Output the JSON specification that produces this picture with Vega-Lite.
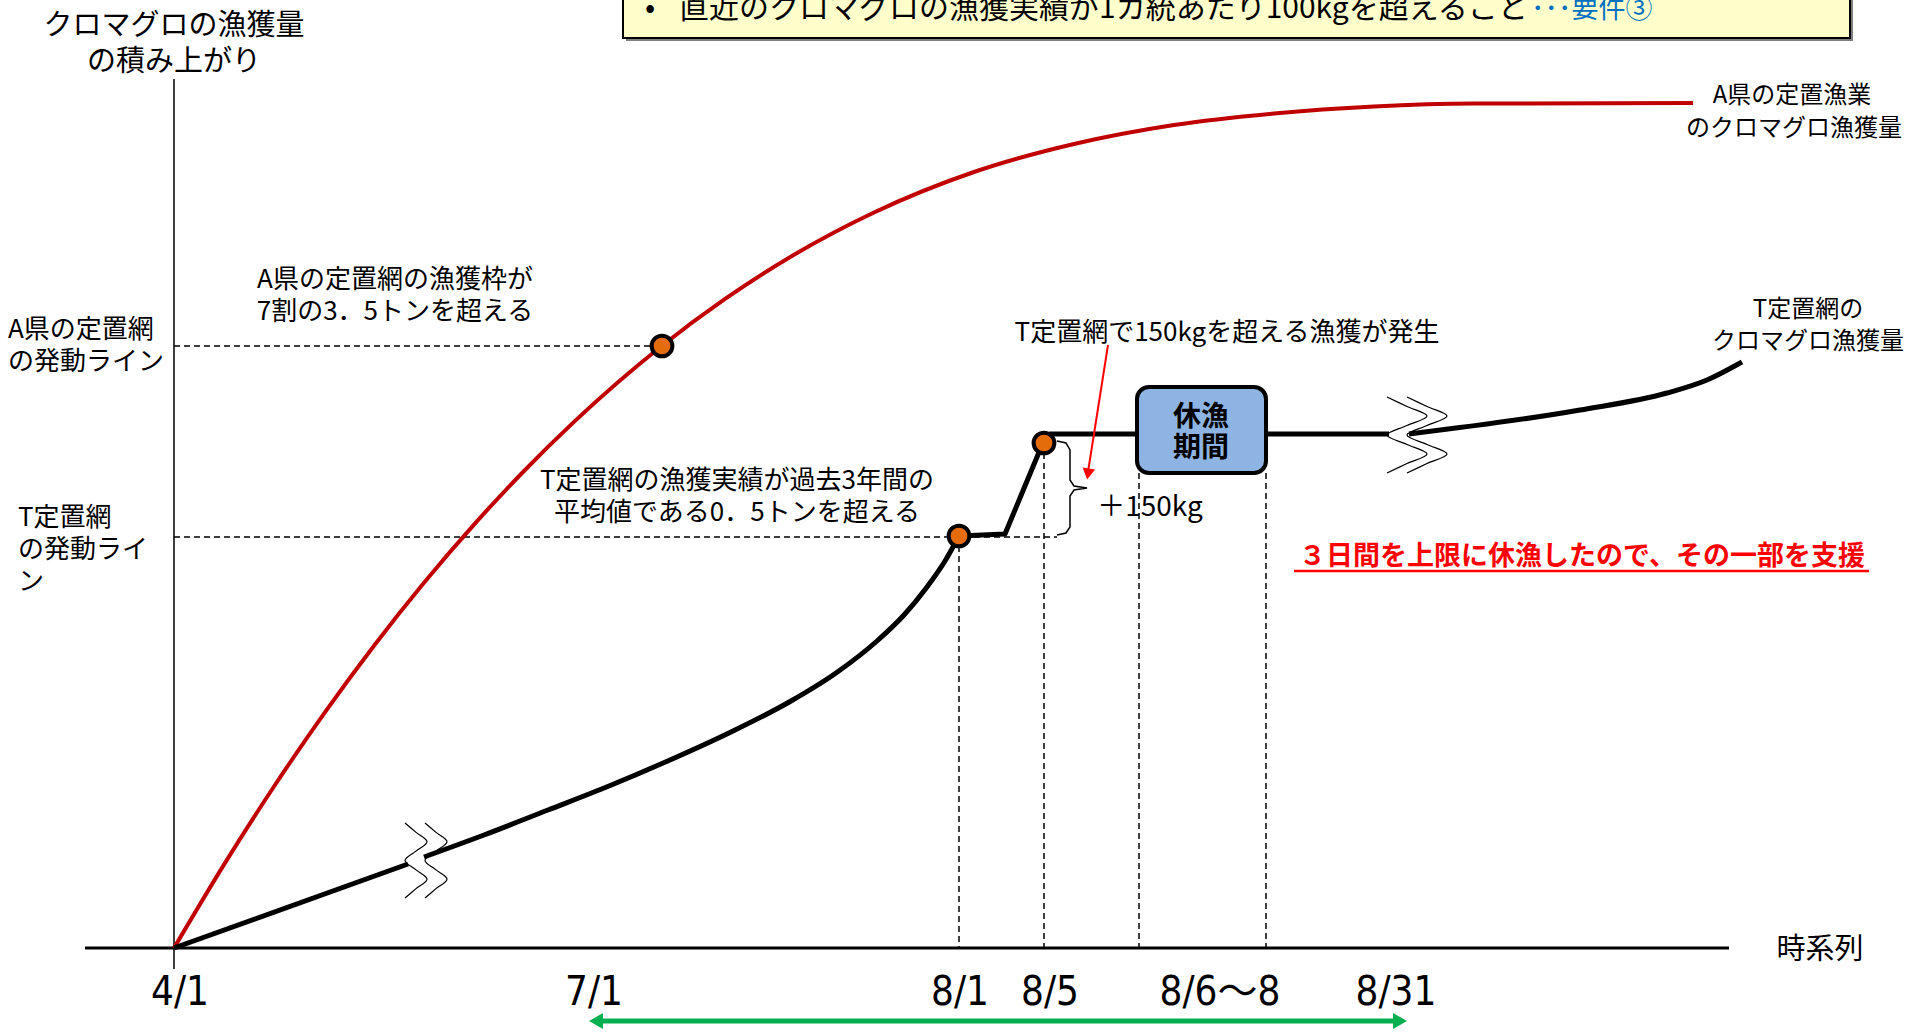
{
  "$schema": "https://vega.github.io/schema/vega-lite/v6.json",
  "width": 1909,
  "height": 1032,
  "autosize": {"type": "none"},
  "padding": 0,
  "background": "white",
  "config": {"view": {"stroke": null}, "font": "Noto Sans CJK JP"},
  "datasets": {
    "ybox": [{"x": 44.9, "y": 96.5, "x2": 167.6, "y2": 91.0}],
    "ybullet": [{"x": 47.6, "y": 93.0, "t": "•"}],
    "ytext": [{"x": 50.5, "y": 93.0, "t": "直近のクロマグロの漁獲実績が1カ統あたり100kgを超えること"}],
    "yblue": [{"x": 135.7, "y": 93.0, "t": "･･･要件③"}],
    "xaxis": [{"x": -8.9, "y": 0, "x2": 155.5, "y2": 0}],
    "yaxis": [{"x": 0, "y": -2.1, "x2": 0, "y2": 86.9}],
    "dashed": [
      {"x": 0, "y": 60.2, "x2": 48.8, "y2": 60.2},
      {"x": 0, "y": 41.1, "x2": 88.3, "y2": 41.1},
      {"x": 78.5, "y": 41.2, "x2": 78.5, "y2": 0},
      {"x": 87.0, "y": 50.5, "x2": 87.0, "y2": 0},
      {"x": 96.5, "y": 47.5, "x2": 96.5, "y2": 0},
      {"x": 109.2, "y": 47.5, "x2": 109.2, "y2": 0}
    ],
    "red": [
      {"x": 0, "y": 0}, {"x": 5, "y": 8.34}, {"x": 10, "y": 16.15}, {"x": 15, "y": 23.44}, {"x": 20, "y": 30.23},
      {"x": 25, "y": 36.52}, {"x": 30, "y": 42.34}, {"x": 35, "y": 47.7}, {"x": 40, "y": 52.61}, {"x": 48.8, "y": 60.22},
      {"x": 55, "y": 64.83}, {"x": 62, "y": 69.32}, {"x": 70, "y": 73.55}, {"x": 80, "y": 77.6}, {"x": 90, "y": 80.4},
      {"x": 100, "y": 82.3}, {"x": 110, "y": 83.45}, {"x": 120, "y": 84.15}, {"x": 130, "y": 84.45}, {"x": 151.9, "y": 84.5}
    ],
    "blackLin": [
      {"seg": "A", "x": 0, "y": 0}, {"seg": "A", "x": 23.4, "y": 8.4},
      {"seg": "C", "x": 78.5, "y": 41.2}, {"seg": "C", "x": 83.1, "y": 41.4},
      {"seg": "C", "x": 86.8, "y": 50.3}, {"seg": "C", "x": 87.6, "y": 51.4},
      {"seg": "C", "x": 121.5, "y": 51.4}
    ],
    "blackMono": [
      {"seg": "B", "x": 25.0, "y": 9.1}, {"seg": "B", "x": 31.0, "y": 11.3}, {"seg": "B", "x": 37.4, "y": 13.8},
      {"seg": "B", "x": 43.5, "y": 16.2}, {"seg": "B", "x": 49.6, "y": 18.8}, {"seg": "B", "x": 55.7, "y": 21.6},
      {"seg": "B", "x": 61.7, "y": 24.7}, {"seg": "B", "x": 66.2, "y": 27.5}, {"seg": "B", "x": 70.3, "y": 30.7},
      {"seg": "B", "x": 73.0, "y": 33.3}, {"seg": "B", "x": 75.3, "y": 36.1}, {"seg": "B", "x": 77.1, "y": 38.7},
      {"seg": "B", "x": 78.5, "y": 41.2},
      {"seg": "D", "x": 123.5, "y": 51.4}, {"seg": "D", "x": 140.6, "y": 53.8}, {"seg": "D", "x": 149.3, "y": 55.5},
      {"seg": "D", "x": 153.3, "y": 56.8}, {"seg": "D", "x": 156.8, "y": 58.6}
    ],
    "breaks": [
      {"id": "a1", "i": 0, "x": 23.1, "y": 12.5}, {"id": "a1", "i": 1, "x": 24.2, "y": 11.56}, {"id": "a1", "i": 2, "x": 25.3, "y": 10.63},
      {"id": "a1", "i": 3, "x": 24.2, "y": 9.69}, {"id": "a1", "i": 4, "x": 23.1, "y": 8.75}, {"id": "a1", "i": 5, "x": 24.2, "y": 7.81},
      {"id": "a1", "i": 6, "x": 25.3, "y": 6.88}, {"id": "a1", "i": 7, "x": 24.2, "y": 5.94}, {"id": "a1", "i": 8, "x": 23.1, "y": 5.0},
      {"id": "a2", "i": 0, "x": 25.1, "y": 12.5}, {"id": "a2", "i": 1, "x": 26.2, "y": 11.56}, {"id": "a2", "i": 2, "x": 27.3, "y": 10.63},
      {"id": "a2", "i": 3, "x": 26.2, "y": 9.69}, {"id": "a2", "i": 4, "x": 25.1, "y": 8.75}, {"id": "a2", "i": 5, "x": 26.2, "y": 7.81},
      {"id": "a2", "i": 6, "x": 27.3, "y": 6.88}, {"id": "a2", "i": 7, "x": 26.2, "y": 5.94}, {"id": "a2", "i": 8, "x": 25.1, "y": 5.0},
      {"id": "b1", "i": 0, "x": 121.3, "y": 55.1}, {"id": "b1", "i": 1, "x": 123.3, "y": 54.15}, {"id": "b1", "i": 2, "x": 125.3, "y": 53.2},
      {"id": "b1", "i": 3, "x": 123.3, "y": 52.25}, {"id": "b1", "i": 4, "x": 121.3, "y": 51.3}, {"id": "b1", "i": 5, "x": 123.3, "y": 50.35},
      {"id": "b1", "i": 6, "x": 125.3, "y": 49.4}, {"id": "b1", "i": 7, "x": 123.3, "y": 48.45}, {"id": "b1", "i": 8, "x": 121.3, "y": 47.5},
      {"id": "b2", "i": 0, "x": 123.3, "y": 55.1}, {"id": "b2", "i": 1, "x": 125.3, "y": 54.15}, {"id": "b2", "i": 2, "x": 127.3, "y": 53.2},
      {"id": "b2", "i": 3, "x": 125.3, "y": 52.25}, {"id": "b2", "i": 4, "x": 123.3, "y": 51.3}, {"id": "b2", "i": 5, "x": 125.3, "y": 50.35},
      {"id": "b2", "i": 6, "x": 127.3, "y": 49.4}, {"id": "b2", "i": 7, "x": 125.3, "y": 48.45}, {"id": "b2", "i": 8, "x": 123.3, "y": 47.5}
    ],
    "box": [{"x": 96.3, "y": 56.1, "x2": 109.2, "y2": 47.5}],
    "boxtxt": [{"x": 102.7, "y": 53.0, "t": "休漁"}, {"x": 102.7, "y": 49.9, "t": "期間"}],
    "dots": [{"x": 48.8, "y": 60.2}, {"x": 78.5, "y": 41.2}, {"x": 87.0, "y": 50.5}],
    "redarrow": [{"x": 93.4, "y": 60.3, "x2": 91.4, "y2": 47.6}],
    "redhead": [{"x": 91.4, "y": 47.4}],
    "brace": [
      {"i": 1, "x": 88.3, "y": 50.7}, {"i": 2, "x": 89.2, "y": 50.5}, {"i": 3, "x": 89.6, "y": 49.8},
      {"i": 4, "x": 89.6, "y": 46.8}, {"i": 5, "x": 90.0, "y": 46.2}, {"i": 6, "x": 91.3, "y": 46.0},
      {"i": 7, "x": 90.0, "y": 45.8}, {"i": 8, "x": 89.6, "y": 45.2}, {"i": 9, "x": 89.6, "y": 42.1},
      {"i": 10, "x": 89.2, "y": 41.5}, {"i": 11, "x": 88.3, "y": 41.3}
    ],
    "green": [{"x": 42.0, "y": -7.3, "x2": 122.8, "y2": -7.3}],
    "greenL": [{"x": 42.2, "y": -7.3}],
    "greenR": [{"x": 122.6, "y": -7.3}],
    "ytitle": [{"x": 0, "y": 92.2, "t": "クロマグロの漁獲量"}, {"x": 0, "y": 88.6, "t": "の積み上がり"}],
    "leftlab": [
      {"x": -16.6, "y": 61.8, "t": "A県の定置網"}, {"x": -16.6, "y": 58.6, "t": "の発動ライン"},
      {"x": -15.6, "y": 43.0, "t": "T定置網"}, {"x": -15.6, "y": 39.8, "t": "の発動ライ"}, {"x": -15.6, "y": 36.6, "t": "ン"}
    ],
    "annot": [
      {"x": 22.1, "y": 66.8, "t": "A県の定置網の漁獲枠が"}, {"x": 22.1, "y": 63.6, "t": "7割の3．5トンを超える"},
      {"x": 56.3, "y": 46.7, "t": "T定置網の漁獲実績が過去3年間の"}, {"x": 56.3, "y": 43.5, "t": "平均値である0．5トンを超える"},
      {"x": 105.3, "y": 61.5, "t": "T定置網で150kgを超える漁獲が発生"}
    ],
    "curvelab": [
      {"x": 161.8, "y": 85.2, "t": "A県の定置漁業"}, {"x": 162.0, "y": 81.9, "t": "のクロマグロ漁獲量"},
      {"x": 163.4, "y": 63.8, "t": "T定置網の"}, {"x": 163.4, "y": 60.6, "t": "クロマグロ漁獲量"}
    ],
    "ticks": [
      {"x": 0.6, "y": -4.5, "t": "4/1"}, {"x": 42.0, "y": -4.5, "t": "7/1"}, {"x": 78.6, "y": -4.5, "t": "8/1"},
      {"x": 87.6, "y": -4.5, "t": "8/5"}, {"x": 104.6, "y": -4.5, "t": "8/6〜8"}, {"x": 122.2, "y": -4.5, "t": "8/31"}
    ],
    "jikei": [{"x": 164.6, "y": -0.2, "t": "時系列"}],
    "plus": [{"x": 97.6, "y": 44.0, "t": "＋150kg"}],
    "redtxt": [{"x": 140.8, "y": 39.1, "t": "３日間を上限に休漁したので、その一部を支援"}],
    "underline": [{"x": 112.0, "y": 37.7, "x2": 169.5, "y2": 37.7}]
  },
  "encoding": {
    "x": {"field": "x", "type": "quantitative", "scale": {"domain": [-17.4, 173.5], "nice": false, "zero": false}, "axis": null},
    "y": {"field": "y", "type": "quantitative", "scale": {"domain": [-8.4, 94.8], "nice": false, "zero": false}, "axis": null}
  },
  "layer": [
    {"data": {"name": "ybox"}, "mark": {"type": "rect", "fill": "#7F7F7F", "xOffset": 3, "x2Offset": 3, "yOffset": 3, "y2Offset": 3}, "encoding": {"x2": {"field": "x2"}, "y2": {"field": "y2"}}},
    {"data": {"name": "ybox"}, "mark": {"type": "rect", "fill": "#FFFFCC", "stroke": "#000000", "strokeWidth": 2}, "encoding": {"x2": {"field": "x2"}, "y2": {"field": "y2"}}},
    {"data": {"name": "ybullet"}, "mark": {"type": "text", "fontSize": 30, "align": "center", "baseline": "alphabetic", "color": "#000000"}, "encoding": {"text": {"field": "t"}}},
    {"data": {"name": "ytext"}, "mark": {"type": "text", "fontSize": 30, "align": "left", "baseline": "alphabetic", "color": "#000000"}, "encoding": {"text": {"field": "t"}}},
    {"data": {"name": "yblue"}, "mark": {"type": "text", "fontSize": 27, "align": "left", "baseline": "alphabetic", "color": "#0070C0"}, "encoding": {"text": {"field": "t"}}},
    {"data": {"name": "xaxis"}, "mark": {"type": "rule", "color": "#000000", "strokeWidth": 3}, "encoding": {"x2": {"field": "x2"}, "y2": {"field": "y2"}}},
    {"data": {"name": "yaxis"}, "mark": {"type": "rule", "color": "#000000", "strokeWidth": 1.5}, "encoding": {"x2": {"field": "x2"}, "y2": {"field": "y2"}}},
    {"data": {"name": "dashed"}, "mark": {"type": "rule", "color": "#000000", "strokeWidth": 1.5, "strokeDash": [6, 4]}, "encoding": {"x2": {"field": "x2"}, "y2": {"field": "y2"}}},
    {"data": {"name": "red"}, "mark": {"type": "line", "color": "#C00000", "strokeWidth": 4, "interpolate": "monotone"}, "encoding": {}},
    {"data": {"name": "blackLin"}, "mark": {"type": "line", "color": "#000000", "strokeWidth": 5, "interpolate": "linear", "strokeJoin": "round"}, "encoding": {"detail": {"field": "seg"}}},
    {"data": {"name": "blackMono"}, "mark": {"type": "line", "color": "#000000", "strokeWidth": 5, "interpolate": "monotone"}, "encoding": {"detail": {"field": "seg"}}},
    {"data": {"name": "breaks"}, "mark": {"type": "line", "color": "#000000", "strokeWidth": 1.2, "interpolate": "catmull-rom"}, "encoding": {"detail": {"field": "id"}, "order": {"field": "i"}}},
    {"data": {"name": "box"}, "mark": {"type": "rect", "fill": "#8DB4E2", "stroke": "#000000", "strokeWidth": 4, "cornerRadius": 12}, "encoding": {"x2": {"field": "x2"}, "y2": {"field": "y2"}}},
    {"data": {"name": "boxtxt"}, "mark": {"type": "text", "fontSize": 28, "fontWeight": "bold", "align": "center", "baseline": "middle", "color": "#000000"}, "encoding": {"text": {"field": "t"}}},
    {"data": {"name": "dots"}, "mark": {"type": "point", "shape": "circle", "filled": true, "fill": "#E46C0A", "stroke": "#000000", "strokeWidth": 4, "size": 430, "opacity": 1}, "encoding": {}},
    {"data": {"name": "redarrow"}, "mark": {"type": "rule", "color": "#FF0000", "strokeWidth": 2}, "encoding": {"x2": {"field": "x2"}, "y2": {"field": "y2"}}},
    {"data": {"name": "redhead"}, "mark": {"type": "point", "shape": "triangle-down", "filled": true, "fill": "#FF0000", "strokeWidth": 0, "size": 160, "angle": 9, "opacity": 1}, "encoding": {}},
    {"data": {"name": "brace"}, "mark": {"type": "line", "color": "#000000", "strokeWidth": 1.5, "interpolate": "linear"}, "encoding": {"order": {"field": "i"}}},
    {"data": {"name": "green"}, "mark": {"type": "rule", "color": "#00B050", "strokeWidth": 5}, "encoding": {"x2": {"field": "x2"}, "y2": {"field": "y2"}}},
    {"data": {"name": "greenL"}, "mark": {"type": "point", "shape": "triangle-left", "filled": true, "fill": "#00B050", "strokeWidth": 0, "size": 260, "opacity": 1}, "encoding": {}},
    {"data": {"name": "greenR"}, "mark": {"type": "point", "shape": "triangle-right", "filled": true, "fill": "#00B050", "strokeWidth": 0, "size": 260, "opacity": 1}, "encoding": {}},
    {"data": {"name": "ytitle"}, "mark": {"type": "text", "fontSize": 29, "align": "center", "baseline": "middle", "color": "#000000"}, "encoding": {"text": {"field": "t"}}},
    {"data": {"name": "leftlab"}, "mark": {"type": "text", "fontSize": 26, "align": "left", "baseline": "middle", "color": "#000000"}, "encoding": {"text": {"field": "t"}}},
    {"data": {"name": "annot"}, "mark": {"type": "text", "fontSize": 26, "align": "center", "baseline": "middle", "color": "#000000"}, "encoding": {"text": {"field": "t"}}},
    {"data": {"name": "curvelab"}, "mark": {"type": "text", "fontSize": 24, "align": "center", "baseline": "middle", "color": "#000000"}, "encoding": {"text": {"field": "t"}}},
    {"data": {"name": "ticks"}, "mark": {"type": "text", "fontSize": 40, "font": "Liberation Sans Narrow, DejaVu Sans Condensed, Noto Sans CJK JP", "align": "center", "baseline": "middle", "color": "#000000"}, "encoding": {"text": {"field": "t"}}},
    {"data": {"name": "jikei"}, "mark": {"type": "text", "fontSize": 29, "align": "center", "baseline": "middle", "color": "#000000"}, "encoding": {"text": {"field": "t"}}},
    {"data": {"name": "plus"}, "mark": {"type": "text", "fontSize": 28, "align": "center", "baseline": "middle", "color": "#000000"}, "encoding": {"text": {"field": "t"}}},
    {"data": {"name": "redtxt"}, "mark": {"type": "text", "fontSize": 27, "fontWeight": "bold", "align": "center", "baseline": "middle", "color": "#FF0000"}, "encoding": {"text": {"field": "t"}}},
    {"data": {"name": "underline"}, "mark": {"type": "rule", "color": "#FF0000", "strokeWidth": 2.5}, "encoding": {"x2": {"field": "x2"}, "y2": {"field": "y2"}}}
  ]
}
